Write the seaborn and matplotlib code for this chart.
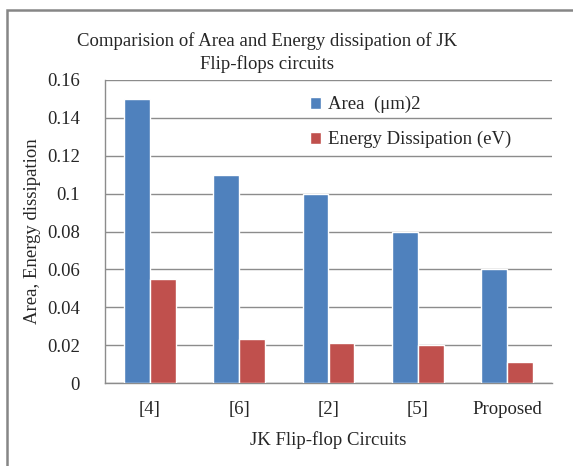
import pandas as pd
import matplotlib.pyplot as plt
import seaborn as sns
from matplotlib.patches import Rectangle

# ---------------------- DATA ----------------------
circuits = ['[4]', '[6]', '[2]', '[5]', 'Proposed']
area = [0.15, 0.11, 0.10, 0.08, 0.06]
energy = [0.055, 0.023, 0.021, 0.020, 0.011]
series_names = ['Area  (\u03bcm)2', 'Energy Dissipation (eV)']
yticks = [0, 0.02, 0.04, 0.06, 0.08, 0.1, 0.12, 0.14, 0.16]
ytick_labels = ['0', '0.02', '0.04', '0.06', '0.08', '0.1', '0.12', '0.14', '0.16']

df = pd.DataFrame({
    'Circuit': circuits * 2,
    'Value': area + energy,
    'Series': [series_names[0]] * len(circuits) + [series_names[1]] * len(circuits),
})

sns.set_style('white')
plt.rcParams['font.family'] = ['Liberation Serif', 'DejaVu Serif']
fs = 13.5

fig = plt.figure(figsize=(5.73, 4.66), dpi=100)
ax = fig.add_axes([105 / 573, 1 - 383 / 466, 447 / 573, 303 / 466])

sns.barplot(data=df, x='Circuit', y='Value', hue='Series', ax=ax,
            palette=['#4F81BD', '#C0504D'], width=0.58, saturation=1,
            errorbar=None, zorder=3)

ax.set_ylim(0, 0.16)
ax.set_xlim(-0.5, 4.5)
ax.set_yticks(yticks)
ax.set_yticklabels(ytick_labels)
ax.yaxis.grid(True, color='#8c8c8c', linewidth=1, zorder=0)
ax.set_axisbelow(True)
for side in ['top', 'right']:
    ax.spines[side].set_visible(False)
for side in ['left', 'bottom']:
    ax.spines[side].set_color('#8c8c8c')
    ax.spines[side].set_linewidth(1)
ax.tick_params(axis='y', length=5, color='#8c8c8c', width=1, pad=13, labelsize=fs)
ax.tick_params(axis='x', length=0, pad=13, labelsize=fs)

ax.set_xlabel('JK Flip-flop Circuits', fontsize=fs)
ax.set_ylabel('Area, Energy dissipation', fontsize=fs)
ax.xaxis.set_label_coords(0.5, -(440 - 383) / 303)
ax.yaxis.set_label_coords((33 - 105) / 447, 0.5)
ax.xaxis.label.set_va('center')
ax.yaxis.label.set_va('center')

fig.text(267 / 573, 1 - 41 / 466, 'Comparision of Area and Energy dissipation of JK',
         ha='center', va='center', fontsize=fs)
fig.text(267 / 573, 1 - 64 / 466, 'Flip-flops circuits',
         ha='center', va='center', fontsize=fs)

ax.legend(loc='upper left', bbox_to_anchor=(0.459, 0.947), frameon=False,
          fontsize=fs, handlelength=0.6, handleheight=0.6, handletextpad=0.35,
          labelspacing=0.95, borderpad=0, borderaxespad=0)

# outer chart border
fig.patches.append(Rectangle((7 / 573, -0.1), 1.2, 1.1 - 10 / 466,
                             transform=fig.transFigure, fill=False,
                             edgecolor='#868686', linewidth=1.8))

fig.savefig('out.png', dpi=100)
